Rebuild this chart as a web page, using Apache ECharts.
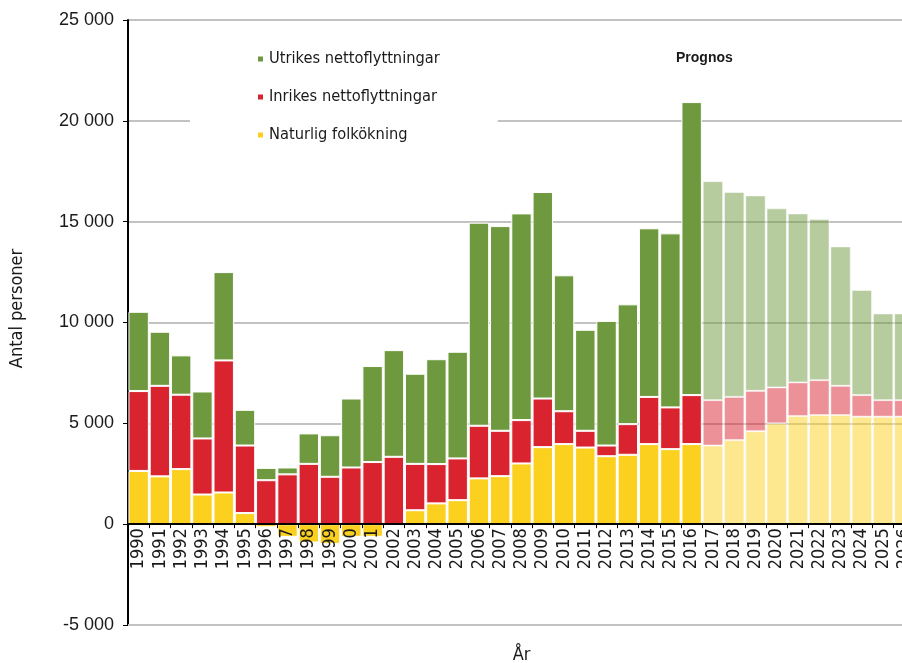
<!DOCTYPE html>
<html>
<head>
<meta charset="utf-8">
<script src="https://cdn.jsdelivr.net/npm/echarts@6/dist/echarts.min.js"></script>
<style>
html, body { margin: 0; padding: 0; background: #fff; }
#chart { width: 902px; height: 663px; }
</style>
</head>
<body>
<div id="chart"></div>
<script>
var years = ['1990', '1991', '1992', '1993', '1994', '1995', '1996', '1997', '1998', '1999',
  '2000', '2001', '2002', '2003', '2004', '2005', '2006', '2007', '2008', '2009',
  '2010', '2011', '2012', '2013', '2014', '2015', '2016', '2017', '2018', '2019',
  '2020', '2021', '2022', '2023', '2024', '2025', '2026']
// index of the first forecast year (2017)
var prognosStart = 27

var naturlig = [2640, 2370, 2730, 1470, 1570, 550, -150, -630, -910, -980,
  -630, -630, 0, 690, 1030, 1190, 2270, 2380, 3010, 3820,
  3970, 3800, 3370, 3440, 3970, 3720, 3970, 3900, 4170, 4610,
  5000, 5360, 5410, 5410, 5330, 5330, 5330]
var inrikes = [3960, 4490, 3690, 2780, 6550, 3350, 2180, 2470, 2990, 2350,
  2810, 3080, 3340, 2300, 1950, 2070, 2610, 2250, 2150, 2410,
  1630, 830, 530, 1520, 2340, 2070, 2430, 2250, 2140, 2000,
  1780, 1670, 1730, 1450, 1070, 820, 820]
var utrikes = [3930, 2680, 1950, 2330, 4380, 1770, 610, 340, 1510, 2060,
  3420, 4760, 5290, 4470, 5200, 5290, 10070, 10150, 10250, 10240,
  6740, 5010, 6180, 5940, 8360, 8630, 14530, 10860, 10160, 9690,
  8880, 8380, 7990, 6910, 5210, 4300, 4300]

var yTicks = { min: -5000, max: 25000, interval: 5000 }

function withPrognos (arr) {
  return arr.map(function (v, i) {
    return i >= prognosStart ? { value: v, itemStyle: { opacity: 0.5 } } : v
  })
}

function fmt (v) {
  var s = String(Math.abs(v)).replace(/\B(?=(\d{3})+(?!\d))/g, ' ')
  return (v < 0 ? '-' : '') + s
}

var narrow = "'Liberation Sans Narrow', 'DejaVu Sans Condensed', sans-serif"

var barBase = {
  type: 'bar',
  stack: 'total',
  barCategoryGap: '4%',
  itemStyle: { borderColor: '#fff', borderWidth: 1 }
}

var gridTop = 20
var gridHeight = 605
// distance from the grid bottom (-5 000) up to the zero line
var zeroOffset = gridHeight * (0 - yTicks.min) / (yTicks.max - yTicks.min)

var myChart = echarts.init(document.getElementById('chart'))
var option = {
  animation: false,
  color: ['#fbd01f', '#d9232f', '#6f993e'],
  grid: { left: 128, top: gridTop, width: 787, height: gridHeight, outerBoundsMode: 'none', containLabel: false },
  legend: {
    data: ['Utrikes nettoflyttningar', 'Inrikes nettoflyttningar', 'Naturlig folkökning'],
    orient: 'vertical',
    left: 190,
    top: 39,
    backgroundColor: '#fff',
    padding: [12, 58, 14, 66],
    itemWidth: 7,
    itemHeight: 7,
    itemGap: 22,
    icon: 'rect',
    textStyle: { fontFamily: narrow, fontSize: 16.3, color: '#1a1a1a' }
  },
  graphic: [{
    type: 'text',
    left: 676,
    top: 51,
    style: {
      text: 'Prognos',
      font: 'bold 14px "Liberation Sans", Arial, sans-serif',
      fill: '#1a1a1a'
    }
  }],
  xAxis: {
    type: 'category',
    data: years,
    position: 'bottom',
    offset: -zeroOffset,
    z: 5,
    name: 'År',
    nameLocation: 'middle',
    nameGap: 122,
    nameTextStyle: { fontFamily: narrow, fontSize: 18, color: '#1a1a1a' },
    axisLine: { onZero: false, lineStyle: { color: '#000', width: 2 } },
    axisTick: { show: true, length: 4, lineStyle: { color: '#000' } },
    axisLabel: {
      interval: 0,
      rotate: 90,
      margin: 4,
      fontFamily: "'DejaVu Sans Condensed', 'DejaVu Sans', sans-serif",
      fontSize: 18,
      color: '#1a1a1a'
    },
    splitLine: { show: false }
  },
  yAxis: {
    type: 'value',
    min: yTicks.min,
    max: yTicks.max,
    interval: yTicks.interval,
    name: 'Antal personer',
    nameLocation: 'middle',
    nameGap: 102,
    nameTextStyle: { fontFamily: narrow, fontSize: 18, color: '#1a1a1a', padding: [0, 0, 0, 28] },
    axisLine: { show: true, lineStyle: { color: '#000', width: 2 } },
    axisTick: { show: true, length: 5, lineStyle: { color: '#000' } },
    axisLabel: {
      margin: 14,
      fontFamily: "'Liberation Sans', Arial, sans-serif",
      fontSize: 18,
      color: '#1a1a1a',
      formatter: fmt
    },
    splitLine: { lineStyle: { color: '#c2c2c2', width: 2 } }
  },
  series: [
    Object.assign({}, barBase, {
      name: 'Naturlig folkökning',
      data: withPrognos(naturlig),
      markLine: {
        silent: true,
        symbol: 'none',
        label: { show: false },
        lineStyle: { color: '#c2c2c2', width: 2, type: 'solid' },
        data: [{ yAxis: yTicks.min }]
      }
    }),
    Object.assign({}, barBase, { name: 'Inrikes nettoflyttningar', data: withPrognos(inrikes) }),
    Object.assign({}, barBase, { name: 'Utrikes nettoflyttningar', data: withPrognos(utrikes) })
  ]
}
myChart.setOption(option)
</script>
</body>
</html>
